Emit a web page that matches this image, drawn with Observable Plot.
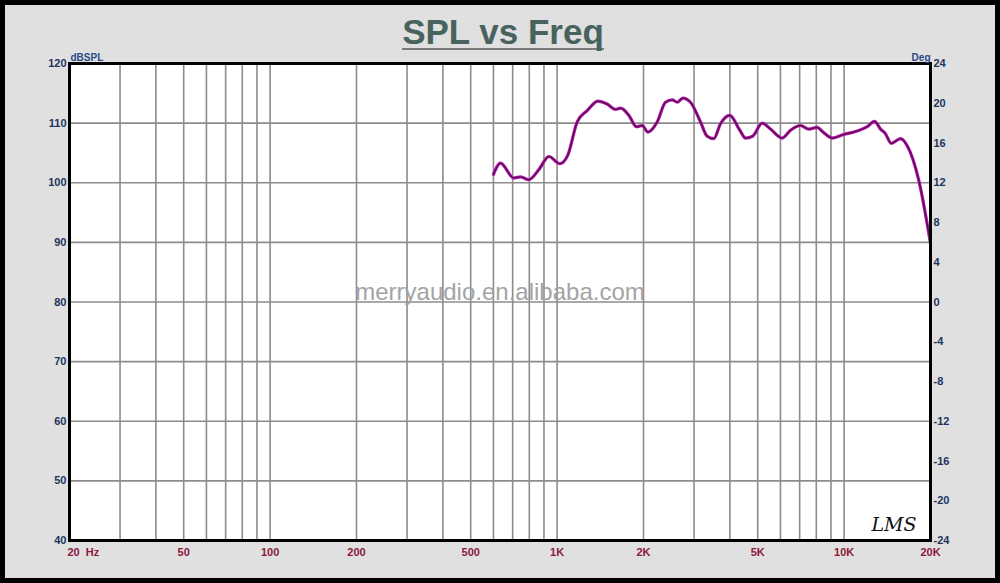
<!DOCTYPE html>
<html>
<head>
<meta charset="utf-8">
<script src="https://cdn.jsdelivr.net/npm/d3@7"></script>
<script src="https://cdn.jsdelivr.net/npm/@observablehq/plot@0.6"></script>
<style>
  html, body { margin: 0; padding: 0; background: #000; }
  #wrap { position: relative; width: 1000px; height: 583px; background: #000; overflow: hidden; }
  #panel { position: absolute; left: 5px; top: 5px; width: 990px; height: 573px; background: #e0e0e0; }
  #title { position: absolute; left: 0; width: 1000px; top: 12px; text-align: center;
           font-family: "Liberation Sans", Arial, sans-serif; font-weight: bold; font-size: 35px;
           color: #48625e; }
  #title span { display: inline-block; border-bottom: 2px solid #7a7a7a; line-height: 33px; padding: 0; margin-left: 6px; }
  #chart { position: absolute; left: 0; top: 0; }
</style>
</head>
<body>
<div id="wrap">
  <div id="panel"></div>
  <div id="title"><span>SPL vs Freq</span></div>
  <div id="chart"></div>
</div>
<script>
// Frequency response data (Hz, dBSPL)
const freq = [600, 635, 706, 745, 796, 864, 936, 1022, 1089, 1175, 1273, 1387, 1494, 1598, 1664, 1778, 1890, 1980, 2070, 2232, 2386, 2518, 2622, 2742, 2916, 3160, 3333, 3516, 3710, 3996, 4332, 4535, 4800, 5184, 5540, 6084, 6506, 7048, 7534, 8058, 8400, 9090, 9977, 10808, 12034, 12761, 13394, 13940, 14590, 15726, 16592, 18208, 20000];
const spl  = [101.4, 103.3, 100.8, 101.0, 100.5, 102.2, 104.4, 103.2, 104.6, 110.2, 112.1, 113.7, 113.2, 112.3, 112.5, 111.3, 109.4, 109.6, 108.5, 110.2, 113.5, 113.9, 113.5, 114.2, 113.5, 110.2, 107.8, 107.4, 109.9, 111.3, 108.8, 107.5, 107.8, 110.0, 109.0, 107.5, 108.8, 109.6, 109.0, 109.3, 108.6, 107.5, 108.1, 108.5, 109.4, 110.3, 109.0, 108.2, 106.6, 107.4, 106.2, 100.4, 89.8];

// Axis ticks
const xTickValues = [20, 50, 100, 200, 500, 1000, 2000, 5000, 10000, 20000];
const xTickLabels = ["20  Hz", "50", "100", "200", "500", "1K", "2K", "5K", "10K", "20K"];
const yTicks = [40, 50, 60, 70, 80, 90, 100, 110, 120];
const degTicks = [-24, -20, -16, -12, -8, -4, 0, 4, 8, 12, 16, 20, 24];
const xGrid = [20, 30, 40, 50, 60, 70, 80, 90, 100, 200, 300, 400, 500, 600, 700, 800, 900, 1000, 2000, 3000, 4000, 5000, 6000, 7000, 8000, 9000, 10000, 20000];
const yGrid = [50, 60, 70, 80, 90, 100, 110];

const data = freq.map((f, i) => ({f, v: spl[i]}));
const degToDb = d => 80 + d * 40 / 24;
const xLab = xTickValues.map((v, i) => ({v, t: xTickLabels[i]}));

const font = "'Liberation Sans', Arial, sans-serif";
const labBlue = "#1c355e";
const labRed = "#8b173d";

const chart = Plot.plot({
  width: 1000, height: 583,
  marginLeft: 69, marginRight: 70, marginTop: 63, marginBottom: 43,
  style: {background: "transparent", fontFamily: font, overflow: "visible"},
  x: {type: "log", domain: [20, 20000], axis: null},
  y: {domain: [40, 120], axis: null},
  marks: [
    Plot.frame({fill: "white", stroke: null}),
    Plot.ruleX(xGrid, {stroke: "#8c8c8c", strokeWidth: 1.6}),
    Plot.ruleY(yGrid, {stroke: "#8c8c8c", strokeWidth: 1.6}),
    Plot.text(["merryaudio.en.alibaba.com"], {frameAnchor: "middle", dx: 0, dy: -10, fontSize: 24, fill: "#a4a4a4", fontFamily: font}),
    Plot.text(["LMS"], {frameAnchor: "bottom-right", dx: -14, dy: -10, fontSize: 19, fontStyle: "italic", fontFamily: "'DejaVu Serif', serif", fill: "#111"}),
    Plot.line(data, {x: "f", y: "v", stroke: "#b018b0", strokeWidth: 3.2, curve: "monotone-x"}),
    Plot.line(data, {x: "f", y: "v", stroke: "#5e0c48", strokeWidth: 1.3, curve: "monotone-x"}),
    Plot.frame({stroke: "#000", strokeWidth: 3}),
    Plot.axisY({anchor: "left", ticks: yTicks, tickSize: 0, tickPadding: 3, label: null, fontSize: 11, fontWeight: "bold", fill: labBlue}),
    Plot.axisY({anchor: "right", ticks: degTicks.map(degToDb), tickFormat: v => String(Math.round((v - 80) * 24 / 40)), tickSize: 0, tickPadding: 3, label: null, fontSize: 11, fontWeight: "bold", fill: labBlue}),
    Plot.text(["dBSPL"], {frameAnchor: "top-left", dx: 1, dy: -3, lineAnchor: "bottom", textAnchor: "start", fontSize: 10, fontWeight: "bold", fill: "#2a4b85"}),
    Plot.text(["Deg"], {frameAnchor: "top-right", dx: 0, dy: -3, lineAnchor: "bottom", textAnchor: "end", fontSize: 10, fontWeight: "bold", fill: "#2a4b85"}),
    Plot.text(xLab.slice(0, 1), {x: "v", text: "t", frameAnchor: "bottom", dy: 12, dx: -2, lineAnchor: "middle", textAnchor: "start", fontSize: 11, fontWeight: "bold", fill: labRed}),
    Plot.text(xLab.slice(1), {x: "v", text: "t", frameAnchor: "bottom", dy: 12, lineAnchor: "middle", fontSize: 11, fontWeight: "bold", fill: labRed})
  ]
});
document.getElementById("chart").appendChild(chart);
</script>
</body>
</html>
